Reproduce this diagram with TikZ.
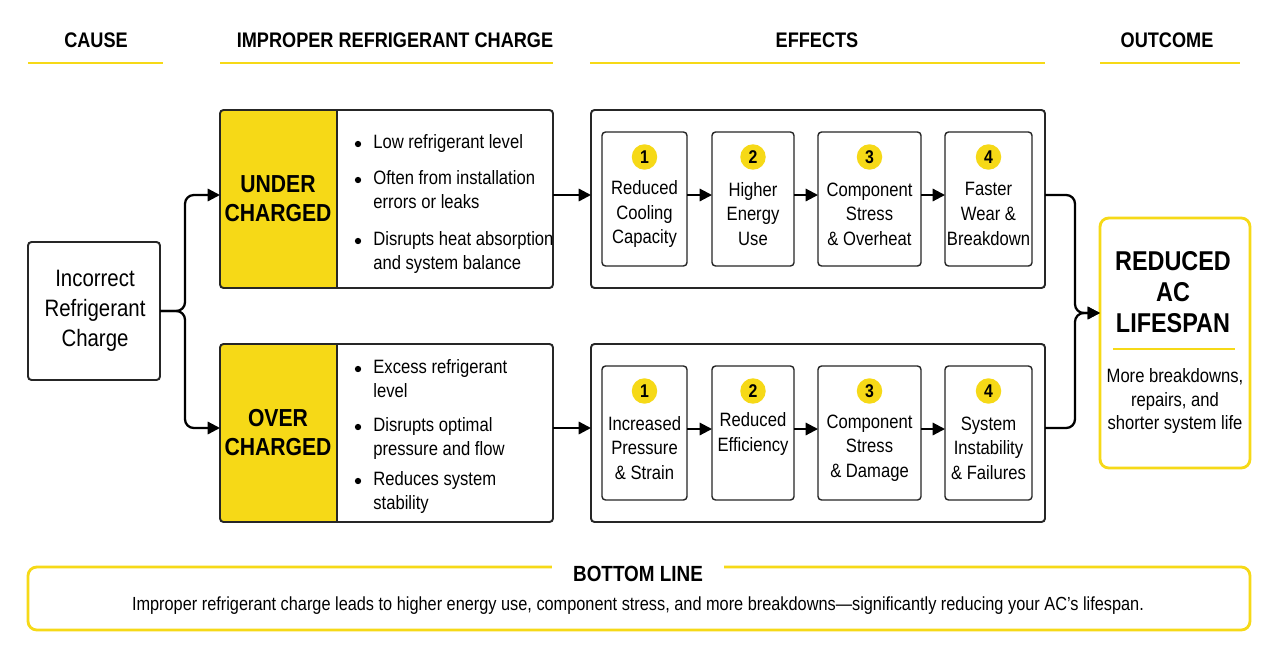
\documentclass[tikz,border=0pt]{standalone}
\usepackage{fontspec}
\setmainfont{Liberation Sans}[FakeStretch=0.86]
\usetikzlibrary{arrows.meta}
\definecolor{yel}{HTML}{F6D917}
\begin{document}
\begin{tikzpicture}[x=0.02cm,y=-0.02cm,
 box/.style={draw=black!85,line width=1.1pt,rounded corners=2pt},
 inb/.style={draw=black!85,line width=0.8pt,rounded corners=2pt},
 arr/.style={line width=1.3pt,-{Triangle[length=7pt,width=7pt]},rounded corners=5pt},
 hd/.style={font=\bfseries\fontsize{12}{14}\selectfont},
 ul/.style={yel,line width=1.2pt},
 num/.style={circle,fill=yel,minimum size=14.5pt,inner sep=0pt,font=\bfseries\fontsize{10.5}{10.5}\selectfont},
 et/.style={align=center,font=\fontsize{11}{14}\selectfont},
 bf/.style={font=\fontsize{11}{13.5}\selectfont}]
\useasboundingbox[fill=white] (0,0) rectangle (1280,663);
% headers
\node[hd] (h1) at (96,40) {CAUSE};
\node[hd] (h2) at (395,40) {IMPROPER REFRIGERANT CHARGE};
\node[hd] (h3) at (817,40) {EFFECTS};
\node[hd] (h4) at (1167,40) {OUTCOME};
\draw[ul] (28,63)--(163,63); \draw[ul] (220,63)--(553,63);
\draw[ul] (590,63)--(1045,63); \draw[ul] (1100,63)--(1240,63);
% cause
\draw[box] (28,242) rectangle (160,380);
\node[et,font=\fontsize{13.5}{17}\selectfont] (cause) at (95,311) {Incorrect\\Refrigerant\\Charge};
\coordinate (cr) at (160,311);
% under / over
\foreach \t/\b/\m/\nm/\lab in {110/288/195/U/{UNDER\\CHARGED},344/522/428/O/{OVER\\CHARGED}}{
 \fill[yel,rounded corners=2pt] (220,\t) rectangle (337,\b);
 \draw[black!85,line width=0.9pt] (337,\t)--(337,\b);
 \draw[box] (220,\t) rectangle (553,\b);
 \node[align=center,font=\bfseries\fontsize{14}{16.5}\selectfont] (\nm lab) at (278,{(\t+\b)/2}) {\lab};
 \coordinate (\nm in) at (220,\m);
 \coordinate (\nm out) at (553,\m);
}
\foreach \y/\txt in {144/{Low refrigerant level},180/{Often from installation\\errors or leaks},241/{Disrupts heat absorption\\and system balance},369/{Excess refrigerant\\level},427/{Disrupts optimal\\pressure and flow},481/{Reduces system\\stability}}{
 \fill (358,\y) circle (1.8pt);
 \node[bf,align=left,anchor=north west,inner sep=0pt] at (373,\y-10) {\txt};}
\draw[arr] (cr) -- (185,311) |- (Uin);
\draw[arr] (cr) -- (185,311) |- (Oin);
% effects
\draw[box] (591,110) rectangle (1045,288);
\draw[box] (591,344) rectangle (1045,522);
\coordinate (EUin) at (591,195); \coordinate (EOin) at (591,428);
\coordinate (EUout) at (1045,195); \coordinate (EOout) at (1045,428);
\draw[arr] (Uout) -- (EUin);
\draw[arr] (Oout) -- (EOin);
\foreach \r/\t/\b/\ty/\la/\lb/\lc/\ld in {
 U/132/266/214/{Reduced\\Cooling\\Capacity}/{Higher\\Energy\\Use}/{Component\\Stress\\\& Overheat}/{Faster\\Wear \&\\Breakdown},
 O/366/500/448/{Increased\\Pressure\\\& Strain}/{Reduced\\Efficiency\\\strut}/{Component\\Stress\\\& Damage}/{System\\Instability\\\& Failures}}{
 \foreach \i/\l/\rr/\txt in {1/602/687/\la,2/712/794/\lb,3/818/921/\lc,4/945/1032/\ld}{
  \draw[inb] (\l,\t) rectangle (\rr,\b);
  \node[num] at ({(\l+\rr)/2},\t+25) {\i};
  \node[et] (\r e\i) at ({(\l+\rr)/2},\ty) {\txt};
  \coordinate (\r L\i) at (\l,\t+63);
  \coordinate (\r R\i) at (\rr,\t+63);
 }
 \draw[arr,line width=1.2pt] (\r R1)--(\r L2);
 \draw[arr,line width=1.2pt] (\r R2)--(\r L3);
 \draw[arr,line width=1.2pt] (\r R3)--(\r L4);
}
% outcome
\draw[yel,line width=1.6pt,rounded corners=5pt] (1100,218) rectangle (1250,468);
\coordinate (outin) at (1100,313);
\draw[arr] (EUout) -- (1075,195) |- (outin);
\draw[arr] (EOout) -- (1075,428) |- (outin);
\node[align=center,font=\bfseries\fontsize{15.5}{17.5}\selectfont] (res) at (1173,292) {REDUCED\\AC\\LIFESPAN};
\draw[yel,line width=1.6pt] (1113,349)--(1235,349);
\node[et,font=\fontsize{11}{13.5}\selectfont] (rest) at (1175,401) {More breakdowns,\\repairs, and\\shorter system life};
% bottom line
\draw[yel,line width=1.6pt,rounded corners=5pt] (28,567) rectangle (1250,630);
\node[fill=white,inner xsep=12pt,font=\bfseries\fontsize{12.5}{14}\selectfont] (bl) at (638,574) {BOTTOM LINE};
\node[font=\fontsize{10.8}{13}\selectfont] (blt) at (638,606) {Improper refrigerant charge leads to higher energy use, component stress, and more breakdowns—significantly reducing your AC’s lifespan.};
\end{tikzpicture}
\end{document}
